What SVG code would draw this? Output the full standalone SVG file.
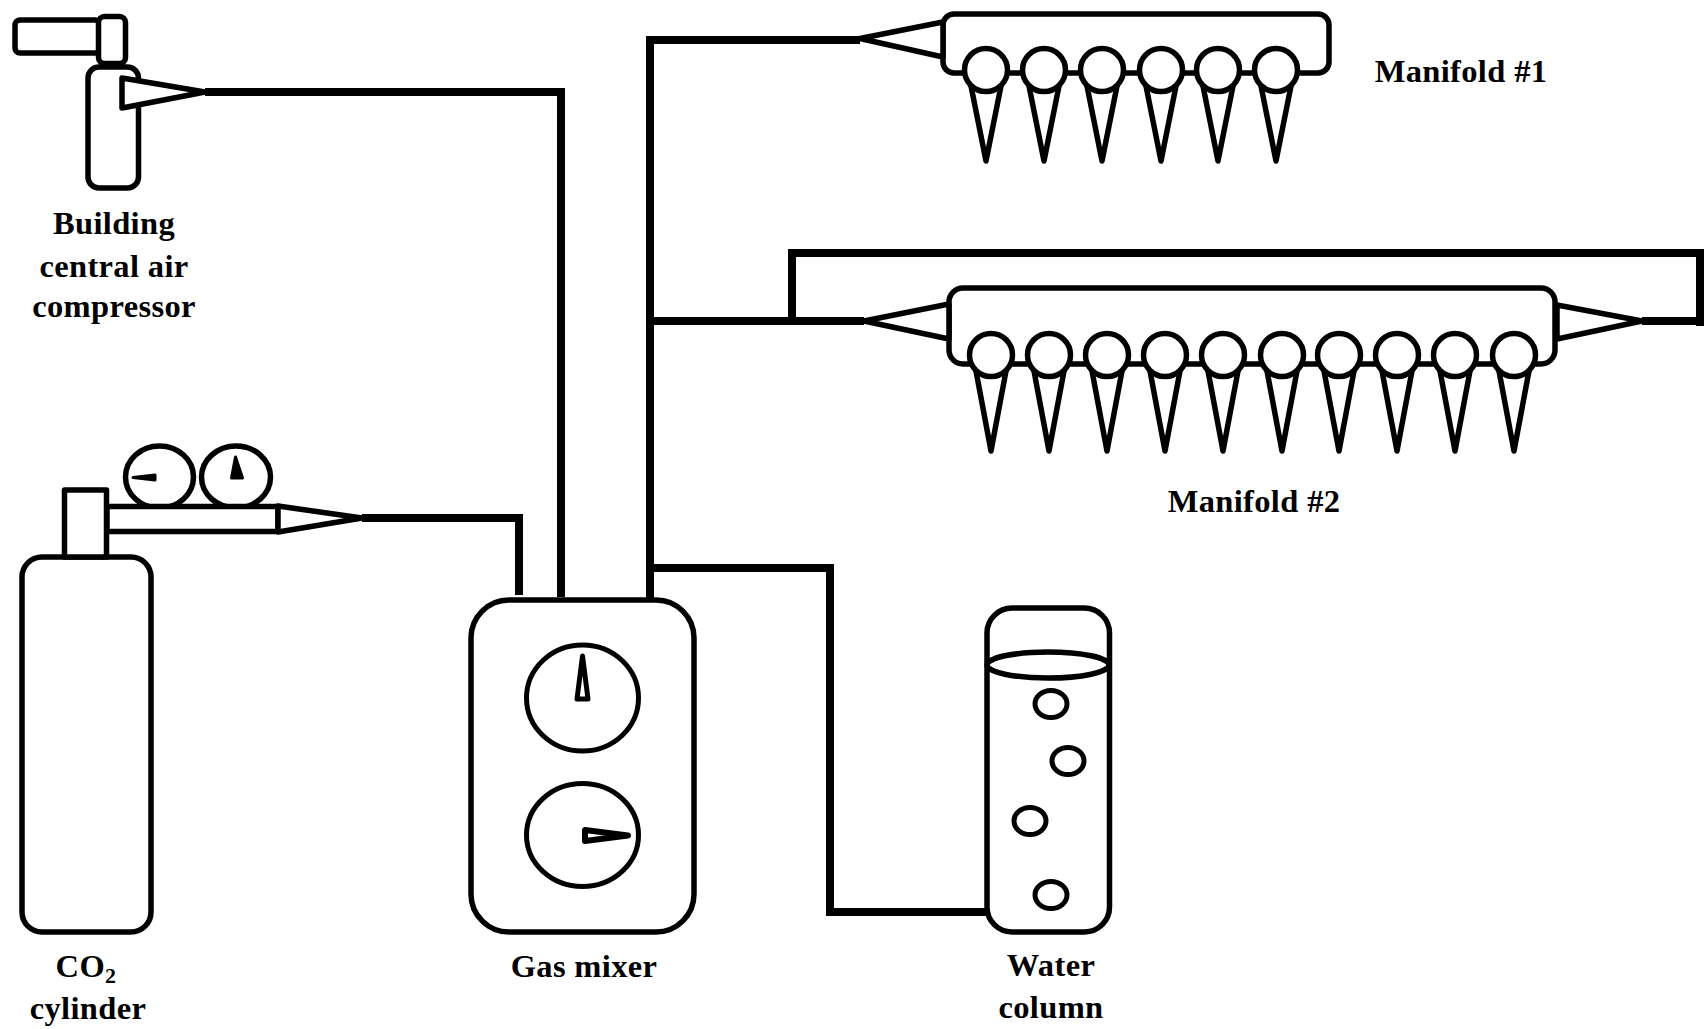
<svg xmlns="http://www.w3.org/2000/svg" xmlns:xlink="http://www.w3.org/1999/xlink" width="1705" height="1029" viewBox="0 0 1705 1029">
<style>
.s{fill:#fff;stroke:#000;stroke-width:5.5;stroke-linejoin:round}
.t{fill:#fff;stroke:#000;stroke-width:5;stroke-linejoin:round}
.n{fill:#000;stroke:#000;stroke-width:3;stroke-linejoin:round}
.p{fill:none;stroke:#000;stroke-width:8;stroke-linejoin:miter}
text{font-family:"Liberation Serif","Times New Roman",serif;font-weight:bold;font-size:32.500px;fill:#000;text-anchor:middle;letter-spacing:.35px}
</style>
<defs>
<g id="bead1"><polygon class="s" points="-15,0 15,0 0,75"/><circle class="s" cx="0" cy="-16" r="21.5"/></g>
<g id="bead2"><polygon class="s" points="-15,0 15,0 0,80"/><circle class="s" cx="0" cy="-16" r="21.5"/></g>
</defs>
<rect width="1705" height="1029" fill="#fff"/>
<g id="connectors">
<path class="p" d="M205 92H561V597"/>
<path class="p" d="M362 518H519V595"/>
<path class="p" d="M650 600V40H860"/>
<path class="p" d="M650 321H864"/>
<path class="p" d="M792 321V253H1700V326"/>
<path class="p" d="M1642 321H1700"/>
<path class="p" d="M650 568H830V912H987"/>
</g>
<g id="compressor">
<rect class="s" x="15" y="20" width="85" height="33" rx="5"/>
<rect class="s" x="98.500" y="16.500" width="27" height="47" rx="6"/>
<rect class="s" x="88" y="67" width="50.500" height="121" rx="11"/>
<polygon class="s" points="122,78 122,108 205,92"/>
<text x="114" y="234">Building</text>
<text x="114" y="277">central air</text>
<text x="114" y="317">compressor</text>
</g>
<g id="co2-cylinder">
<rect class="s" x="22" y="557" width="129" height="375" rx="20"/>
<rect class="s" x="64.500" y="490" width="42" height="67"/>
<ellipse class="s" cx="159.500" cy="477" rx="34" ry="31"/>
<ellipse class="s" cx="236" cy="477" rx="34.500" ry="31"/>
<polygon class="n" points="133,477.500 155,475 155,480"/>
<polygon class="n" points="233,457 229,478 240,478" transform="translate(2.500 0)"/>
<rect class="s" x="107" y="506.500" width="171" height="25"/>
<polygon class="s" points="278,506 278,532 362,518"/>
<text x="86" y="977">CO<tspan font-size="22" dy="6">2</tspan></text>
<text x="88" y="1019">cylinder</text>
</g>
<g id="gas-mixer">
<rect class="s" x="471" y="600" width="223" height="332" rx="38"/>
<ellipse class="t" cx="582.500" cy="698" rx="56" ry="53"/>
<ellipse class="t" cx="582.500" cy="835" rx="56" ry="51.500"/>
<polygon class="t" style="stroke-width:5" points="582.500,656 577,699 588,699"/>
<polygon class="t" style="stroke-width:6" points="585,830 585,841 628,835.500"/>
<text x="584" y="977">Gas mixer</text>
</g>
<g id="water-column">
<rect class="s" x="987" y="608" width="122.500" height="324" rx="25"/>
<ellipse class="s" cx="1048" cy="665" rx="61" ry="13"/>
<ellipse class="t" cx="1051" cy="704" rx="16" ry="13.500"/>
<ellipse class="t" cx="1068" cy="761" rx="16" ry="13.500"/>
<ellipse class="t" cx="1030" cy="821" rx="16" ry="13.500"/>
<ellipse class="t" cx="1051" cy="895" rx="16" ry="13.500"/>
<text x="1051" y="976">Water</text>
<text x="1051" y="1018">column</text>
</g>
<g id="manifold-1">
<rect class="s" x="943" y="14" width="386" height="59" rx="11"/>
<polygon class="s" points="943,22 943,57 860,38.500"/>
<use xlink:href="#bead1" href="#bead1" x="986" y="86"/>
<use xlink:href="#bead1" href="#bead1" x="1044" y="86"/>
<use xlink:href="#bead1" href="#bead1" x="1102" y="86"/>
<use xlink:href="#bead1" href="#bead1" x="1161" y="86"/>
<use xlink:href="#bead1" href="#bead1" x="1218" y="86"/>
<use xlink:href="#bead1" href="#bead1" x="1276" y="86"/>
<text x="1461" y="82">Manifold #1</text>
</g>
<g id="manifold-2">
<rect class="s" x="949" y="288" width="606" height="76" rx="14"/>
<polygon class="s" points="949,304 949,339 864,321"/>
<polygon class="s" points="1557,305 1557,339 1642,321"/>
<use xlink:href="#bead2" href="#bead2" x="991" y="371"/>
<use xlink:href="#bead2" href="#bead2" x="1049" y="371"/>
<use xlink:href="#bead2" href="#bead2" x="1107" y="371"/>
<use xlink:href="#bead2" href="#bead2" x="1165" y="371"/>
<use xlink:href="#bead2" href="#bead2" x="1223" y="371"/>
<use xlink:href="#bead2" href="#bead2" x="1282" y="371"/>
<use xlink:href="#bead2" href="#bead2" x="1339" y="371"/>
<use xlink:href="#bead2" href="#bead2" x="1397" y="371"/>
<use xlink:href="#bead2" href="#bead2" x="1455" y="371"/>
<use xlink:href="#bead2" href="#bead2" x="1514" y="371"/>
<text x="1254" y="512">Manifold #2</text>
</g>
</svg>
